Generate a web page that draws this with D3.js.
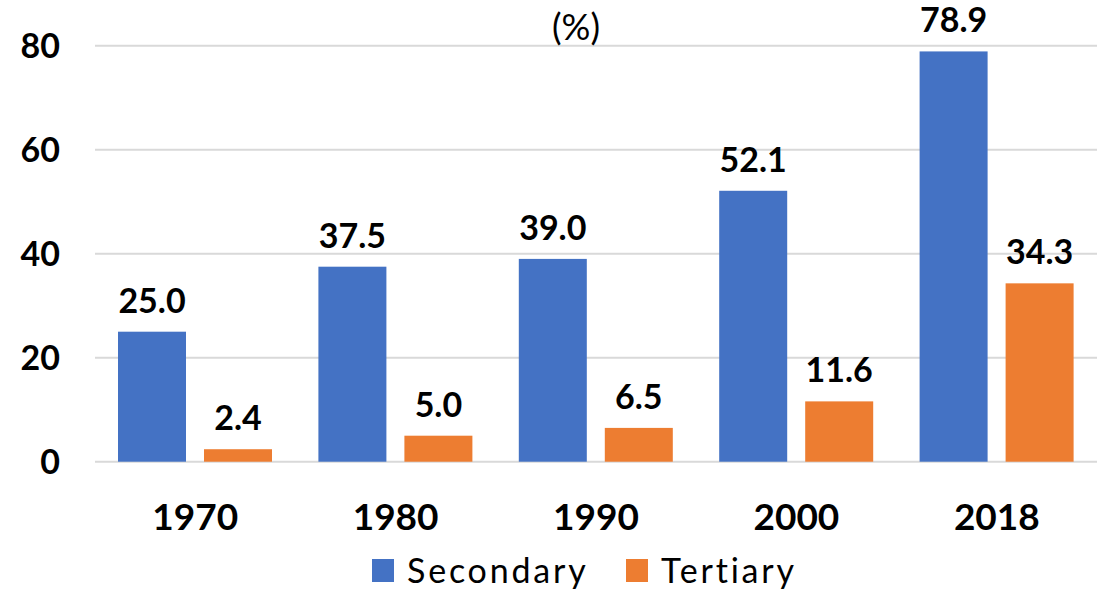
<!DOCTYPE html>
<html>
<head>
<meta charset="utf-8">
<script src="https://cdn.jsdelivr.net/npm/d3@7"></script>
<style>
  body { margin: 0; background: #fff; }
  svg { display: block; font-family: Lato, "Open Sans", sans-serif; }
</style>
</head>
<body>
<svg width="1104" height="593"></svg>
<script>
var years = ["1970", "1980", "1990", "2000", "2018"];
var seriesNames = ["Secondary", "Tertiary"];
var secondary = [25.0, 37.5, 39.0, 52.1, 78.9];
var tertiary = [2.4, 5.0, 6.5, 11.6, 34.3];
var yTicks = [0, 20, 40, 60, 80];
var colors = ["#4472c4", "#ed7d31"];

var svg = d3.select("svg"),
    plotLeft = 95, plotRight = 1097,
    plotTop = 45.7, plotBottom = 461.7;

var data = years.map(function(y, i) {
  return { year: y, values: [secondary[i], tertiary[i]] };
});

var x0 = d3.scaleBand().domain(years).range([plotLeft, plotRight]).paddingInner(0).paddingOuter(0);
var x1 = d3.scaleBand().domain(seriesNames).range([23, 177]).paddingInner(18 / 86).paddingOuter(0);
var y = d3.scaleLinear().domain([0, 80]).range([plotBottom, plotTop]);

// gridlines
svg.append("g").selectAll("line")
  .data(yTicks)
  .enter().append("line")
  .attr("x1", plotLeft).attr("x2", plotRight)
  .attr("y1", function(d) { return y(d); })
  .attr("y2", function(d) { return y(d); })
  .attr("stroke", "#d9d9d9")
  .attr("stroke-width", 2);

// y tick labels
svg.append("g").selectAll("text")
  .data(yTicks)
  .enter().append("text")
  .attr("x", 60)
  .attr("y", function(d) { return y(d) + 12; })
  .attr("text-anchor", "end")
  .style("font-size", "34px").style("font-weight", "bold")
  .text(function(d) { return d; });

var groups = svg.append("g").selectAll("g")
  .data(data)
  .enter().append("g")
  .attr("transform", function(d) { return "translate(" + x0(d.year) + ",0)"; });

var bars = groups.selectAll("g")
  .data(function(d) { return d.values.map(function(v, i) { return { name: seriesNames[i], value: v, i: i }; }); })
  .enter().append("g");

bars.append("rect")
  .attr("x", function(d) { return x1(d.name); })
  .attr("width", x1.bandwidth())
  .attr("y", function(d) { return y(d.value); })
  .attr("height", function(d) { return plotBottom - y(d.value); })
  .attr("fill", function(d) { return colors[d.i]; });

bars.append("text")
  .attr("x", function(d) { return x1(d.name) + x1.bandwidth() / 2; })
  .attr("y", function(d) { return y(d.value) - 19; })
  .attr("text-anchor", "middle")
  .style("font-size", "34px").style("font-weight", "bold")
  .text(function(d) { return d.value.toFixed(1); });

// x labels
svg.append("g").selectAll("text")
  .data(years)
  .enter().append("text")
  .attr("x", function(d) { return x0(d) + x0.bandwidth() / 2; })
  .attr("y", 530)
  .attr("text-anchor", "middle")
  .style("font-size", "37px").style("font-weight", "bold")
  .text(function(d) { return d; });

// unit
svg.append("text")
  .attr("x", 576).attr("y", 40)
  .attr("text-anchor", "middle")
  .style("font-size", "36px")
  .text("(%)");

// legend
var legendX = [372, 626];
var legend = svg.append("g").selectAll("g")
  .data(seriesNames)
  .enter().append("g")
  .attr("transform", function(d, i) { return "translate(" + legendX[i] + ",559)"; });

legend.append("rect")
  .attr("width", 22).attr("height", 23)
  .attr("fill", function(d, i) { return colors[i]; });

legend.append("text")
  .attr("x", 35).attr("y", 24)
  .style("font-size", "34px")
  .style("letter-spacing", "2.8px")
  .text(function(d) { return d; });
</script>
</body>
</html>
